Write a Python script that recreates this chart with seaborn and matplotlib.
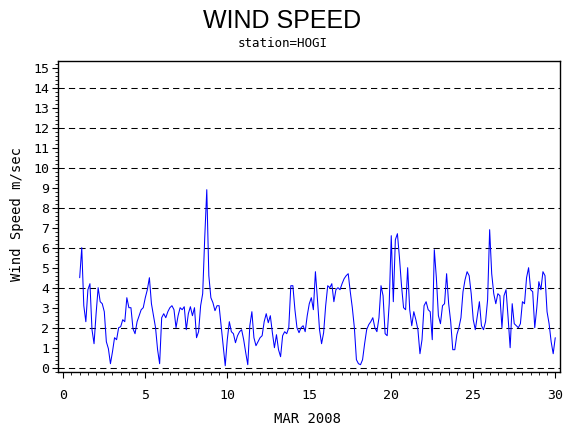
import numpy as np
import pandas as pd
import matplotlib
matplotlib.use("Agg")
import matplotlib.pyplot as plt
from matplotlib.ticker import MultipleLocator
import seaborn as sns

# ---- data (3-hourly samples) ----
start_day = 1.0
step_day = 0.125
speed = [
    4.5, 6.0, 3.1, 2.3, 3.9, 4.2, 1.9, 1.2,            # day 1
    2.7, 4.0, 3.3, 3.2, 2.8, 1.3, 0.95, 0.2,           # day 2
    0.8, 1.5, 1.4, 2.0, 2.05, 2.4, 2.3, 3.5,           # day 3
    3.0, 3.0, 1.95, 1.7, 2.3, 2.6, 2.9, 3.0,           # day 4
    3.5, 3.9, 4.5, 3.2, 2.6, 2.0, 0.9, 0.2,            # day 5
    2.5, 2.7, 2.5, 2.8, 3.0, 3.1, 2.9, 2.0,            # day 6
    2.6, 3.0, 2.9, 3.05, 1.9, 2.7, 3.05, 2.6,          # day 7
    3.0, 1.5, 1.8, 3.1, 3.7, 6.5, 8.9, 4.6,            # day 8
    3.5, 3.25, 2.85, 3.1, 3.1, 2.1, 1.15, 0.1,         # day 9
    1.4, 2.3, 1.8, 1.7, 1.25, 1.6, 1.8, 1.9,           # day 10
    1.4, 0.75, 0.15, 2.1, 2.8, 1.5, 1.1, 1.3,          # day 11
    1.5, 1.6, 2.3, 2.7, 2.25, 2.6, 1.75, 1.0,          # day 12
    1.65, 0.9, 0.55, 1.6, 1.8, 1.7, 2.0, 4.1,          # day 13
    4.1, 2.9, 2.0, 1.75, 2.0, 2.1, 1.8, 2.6,           # day 14
    3.2, 3.5, 2.9, 4.8, 3.4, 1.9, 1.2, 1.75,           # day 15
    3.1, 4.1, 4.0, 4.2, 3.3, 3.9, 4.0, 3.9,            # day 16
    4.2, 4.45, 4.6, 4.7, 3.8, 3.0, 2.0, 0.4,           # day 17
    0.2, 0.15, 0.4, 1.2, 1.9, 2.15, 2.3, 2.5,          # day 18
    2.0, 1.8, 2.5, 4.1, 3.6, 1.7, 1.6, 3.2,            # day 19
    6.6, 3.3, 6.4, 6.7, 5.5, 4.1, 3.0, 2.9,            # day 20
    5.0, 2.9, 2.1, 2.8, 2.4, 1.9, 0.7, 1.4,            # day 21
    3.1, 3.3, 2.9, 2.8, 1.4, 5.9, 4.5, 2.6,            # day 22
    2.2, 3.1, 3.2, 4.7, 3.2, 2.3, 0.9, 0.9,            # day 23
    1.65, 2.0, 2.5, 3.8, 4.4, 4.8, 4.6, 3.7,           # day 24
    2.4, 1.9, 2.6, 3.3, 2.1, 1.9, 2.3, 3.4,            # day 25
    6.9, 4.7, 3.7, 3.2, 3.7, 3.6, 2.0, 3.6,            # day 26
    3.9, 2.5, 1.0, 3.2, 2.2, 2.1, 2.0, 2.2,            # day 27
    3.3, 3.2, 4.5, 5.0, 3.9, 3.8, 2.0, 3.0,            # day 28
    4.3, 3.9, 4.8, 4.6, 2.8, 2.2, 1.3, 0.7,            # day 29
    1.5,                                               # day 30
]
days = start_day + step_day * np.arange(len(speed))

title = "WIND SPEED"
subtitle = "station=HOGI"
x_label = "MAR 2008"
y_label = "Wind Speed m/sec"
x_ticks = [0, 5, 10, 15, 20, 25, 30]
y_ticks = list(range(0, 16))
grid_levels = [0, 2, 4, 6, 8, 10, 12, 14]

df = pd.DataFrame({"day": days, "speed": speed})

# ---- style ----
sns.set_style("white")
plt.rcParams["font.family"] = ["DejaVu Sans Mono", "DejaVu Sans"]
plt.rcParams["text.color"] = "black"
plt.rcParams["axes.labelcolor"] = "black"

fig = plt.figure(figsize=(5.7, 4.3), dpi=100)
ax = fig.add_axes([58 / 570, 1 - 372 / 430, 502 / 570, 311 / 430])

for lvl in grid_levels:
    ax.axhline(lvl, color="black", lw=0.75, linestyle=(0, (6, 4)), zorder=1)

sns.lineplot(data=df, x="day", y="speed", ax=ax, color="#0000ff",
             lw=0.75, zorder=3, estimator=None)

ax.set_xlim(-0.323, 30.29)
ax.set_ylim(-0.215, 15.335)

ax.set_xticks(x_ticks)
ax.set_yticks(y_ticks)
ax.xaxis.set_minor_locator(MultipleLocator(0.5))
ax.yaxis.set_minor_locator(MultipleLocator(0.2))
ax.tick_params(axis="both", which="major", direction="out", length=4.5,
               width=0.8, color="black", labelsize=9.5, labelcolor="black")
ax.tick_params(axis="both", which="minor", direction="out", length=2.2,
               width=0.6, color="black")
ax.tick_params(axis="x", which="major", pad=7.5)
ax.tick_params(axis="y", which="major", pad=2)
ax.tick_params(bottom=True, left=True, which="both")

for sp in ax.spines.values():
    sp.set_visible(True)
    sp.set_color("black")
    sp.set_linewidth(1.0)

ax.set_xlabel(x_label, fontsize=10, family=["DejaVu Sans Mono"], color="black")
ax.set_ylabel(y_label, fontsize=10, family=["DejaVu Sans Mono"], color="black")
ax.xaxis.label.set_va("center")
ax.yaxis.label.set_va("center")
ax.xaxis.set_label_coords((308 - 58) / 502, (372 - 419) / 311)
ax.yaxis.set_label_coords((17 - 58) / 502, (372 - 214.5) / 311)

fig.text(282.5 / 570, 1 - 21 / 430, title, ha="center", va="center",
         fontsize=18, color="black", family=["Liberation Sans", "DejaVu Sans"])
fig.text(283 / 570, 1 - 43.5 / 430, subtitle, ha="center", va="center",
         fontsize=9, color="black", family=["DejaVu Sans Mono"])

fig.savefig("out.png", dpi=100, facecolor="white")
